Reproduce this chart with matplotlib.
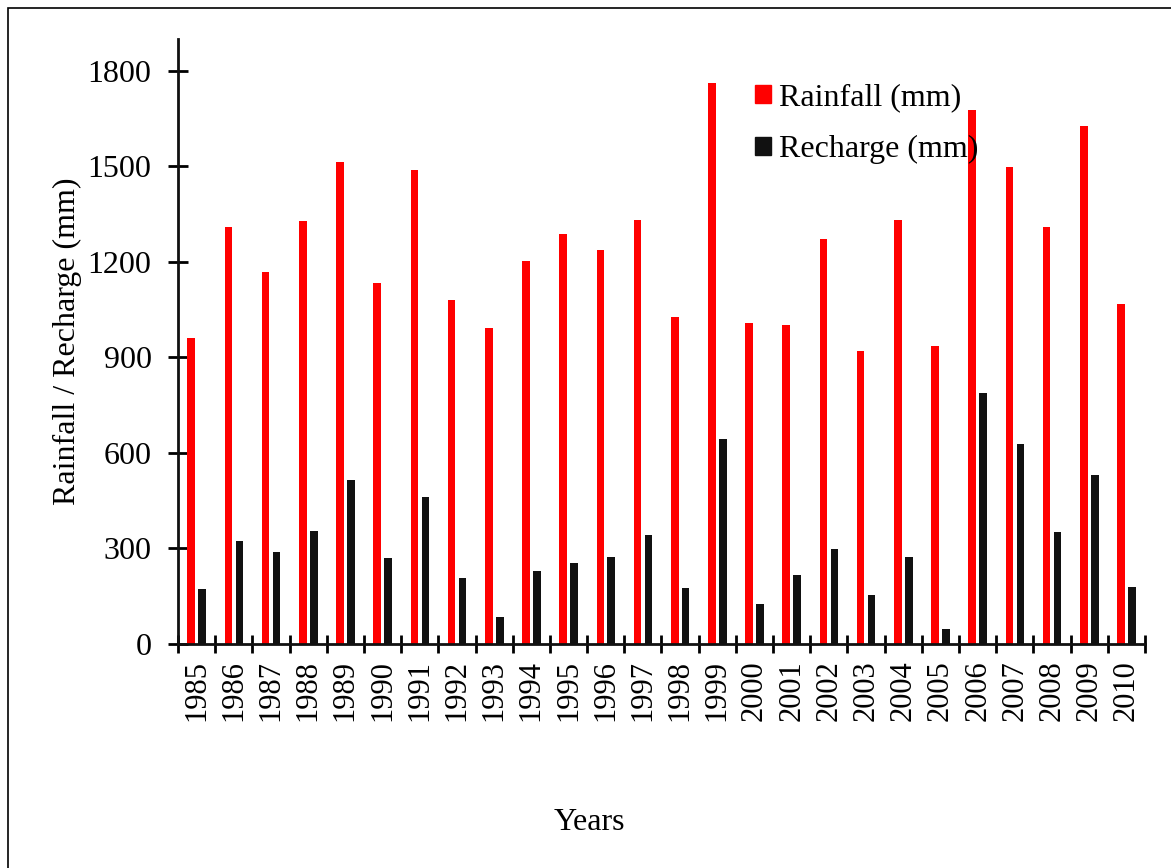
import numpy as np
import matplotlib.pyplot as plt
from matplotlib.patches import Rectangle
from matplotlib.patches import Patch

plt.rcParams["font.family"] = ["Liberation Serif", "DejaVu Serif"]

years = [str(y) for y in range(1985, 2011)]
rainfall = [962, 1309, 1167, 1327, 1515, 1134, 1488, 1080, 993, 1203,
            1288, 1236, 1330, 1027, 1762, 1008, 1001, 1271, 921, 1331,
            936, 1678, 1497, 1308, 1627, 1067]
recharge = [172, 324, 287, 355, 514, 270, 461, 205, 85, 230,
            253, 274, 342, 174, 643, 124, 216, 299, 152, 272,
            45, 788, 629, 350, 530, 179]

FS = 23
x = np.arange(len(years))

fig = plt.figure(figsize=(11.71, 8.68), dpi=100)
ax = fig.add_axes([0.152, 0.2584, 0.8258, 0.6966])

ax.bar(x - 0.145, rainfall, width=0.205, color="#ff0000", zorder=2)
ax.bar(x + 0.15, recharge, width=0.205, color="#111111", zorder=2)

ax.set_xlim(-0.5, len(years) - 0.5)
ax.set_ylim(0, 1900)
ax.set_yticks([0, 300, 600, 900, 1200, 1500, 1800])

ax.set_xticks(x)
ax.set_xticklabels(years, rotation=90)
ax.set_xticks(np.arange(len(years) + 1) - 0.5, minor=True)
ax.tick_params(axis="x", which="major", length=0, pad=12, labelsize=FS - 1)
ax.tick_params(axis="x", which="minor", direction="inout", length=13, width=2)
ax.tick_params(axis="y", direction="inout", length=14, width=2, pad=12, labelsize=FS)

for s in ["top", "right"]:
    ax.spines[s].set_visible(False)
for s in ["left", "bottom"]:
    ax.spines[s].set_linewidth(2)
    ax.spines[s].set_color("#111111")

ax.set_ylabel("Rainfall / Recharge (mm)", fontsize=FS, labelpad=4)
fig.text(589 / 1171, 1 - 822 / 868, "Years", fontsize=FS, ha="center", va="center")

handles = [Patch(color="#ff0000", label="Rainfall (mm)"),
           Patch(color="#111111", label="Recharge (mm)")]
ax.legend(handles=handles, loc="upper left",
          bbox_to_anchor=(755 / 1171, 1 - 83 / 868),
          bbox_transform=fig.transFigure, borderaxespad=0, borderpad=0,
          frameon=False, fontsize=FS, handlelength=0.5, handleheight=0.5,
          handletextpad=0.25, labelspacing=0.72)

fig.patches.append(Rectangle((8 / 1171, -0.1), 1.2, 1 - 8 / 868 + 0.1,
                             transform=fig.transFigure, fill=False,
                             edgecolor="black", linewidth=1.2))

fig.savefig("out.png", dpi=100)
